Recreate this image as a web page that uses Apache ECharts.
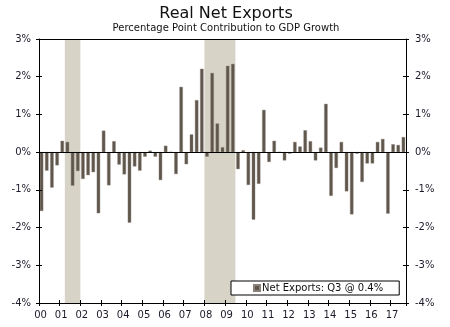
<!DOCTYPE html>
<html>
<head>
<meta charset="utf-8">
<script src="https://cdn.jsdelivr.net/npm/echarts@6/dist/echarts.min.js"></script>
<style>html,body{margin:0;padding:0;background:#fff;}#c{width:450px;height:327px;}</style>
</head>
<body>
<div id="c"></div>
<script>
// Year tick labels (one per year, 4 quarters each)
const yearLabels = ['00','01','02','03','04','05','06','07','08','09','10','11','12','13','14','15','16','17'];
// Quarterly percentage point contribution, 2000Q1 .. 2017Q3
const netExports = [
  -1.56, -0.49, -0.94, -0.35,
   0.30,  0.27, -0.89, -0.50,
  -0.71, -0.61, -0.53, -1.62,
   0.57, -0.88,  0.29, -0.33,
  -0.59, -1.87, -0.38, -0.49,
  -0.12,  0.04, -0.12, -0.74,
   0.17,  0.00, -0.58,  1.73,
  -0.32,  0.47,  1.38,  2.21,
  -0.12,  2.10,  0.76,  0.13,
   2.29,  2.34, -0.45,  0.05,
  -0.87, -1.79, -0.84,  1.12,
  -0.26,  0.30,  0.00, -0.22,
  -0.04,  0.27,  0.15,  0.58,
   0.29, -0.22,  0.12,  1.28,
  -1.16, -0.42,  0.27, -1.04,
  -1.65, -0.04, -0.79, -0.30,
  -0.30,  0.27,  0.35, -1.63,
   0.21,  0.19,  0.40
];
// Recession shading, in quarter positions from 2000Q1
const recessionStart = [5, 32];
const recessionEnd = [8, 38];
const yTickValues = [-4, -3, -2, -1, 0, 1, 2, 3];
const seriesName = 'Net Exports: Q3 @ 0.4%';

const FONT = 'DejaVu Sans';
const nQ = netExports.length;
const xMax = nQ; // 71 quarter slots
const yMin = yTickValues[0], yMax = yTickValues[yTickValues.length - 1];

const chart = echarts.init(document.getElementById('c'), null, {renderer: 'canvas'});

const labelStyle = {color: '#1a1a2a', fontFamily: FONT, fontSize: 10};

chart.setOption({
  animation: false,
  backgroundColor: '#fff',
  title: {
    text: 'Real Net Exports',
    subtext: 'Percentage Point Contribution to GDP Growth',
    left: 221, textAlign: 'center', top: 1, itemGap: 1,
    textStyle: {fontFamily: FONT, fontSize: 16, fontWeight: 'normal', color: '#111'},
    subtextStyle: {fontFamily: FONT, fontSize: 10, color: '#111'}
  },
  legend: {
    data: [seriesName],
    left: 231, top: 281,
    padding: [2, 16, 2, 22],
    backgroundColor: '#fff',
    borderColor: '#000', borderWidth: 1,
    icon: 'rect', itemWidth: 6, itemHeight: 6,
    textStyle: {fontFamily: FONT, fontSize: 10, color: '#111', padding: [0, 0, 0, -3]},
    z: 20
  },
  grid: {left: 39, right: 44, top: 39, bottom: 24, containLabel: false},
  xAxis: [
    {type: 'value', position: 'bottom', min: 0, max: xMax, interval: 4, z: 10,
     axisLine: {show: true, onZero: false, lineStyle: {color: '#000'}},
     axisTick: {show: true, inside: false, length: 3, lineStyle: {color: '#000'}},
     axisLabel: {show: true, margin: 7, ...labelStyle, padding: [0, 0, 0, 3],
       formatter: v => (v % 4 === 0 && v / 4 < yearLabels.length) ? yearLabels[v / 4] : ''},
     splitLine: {show: false}},
    {type: 'value', position: 'bottom', min: 0, max: xMax, interval: 4, z: 10,
     axisLine: {show: false, onZero: false},
     axisTick: {show: true, inside: true, length: 3, lineStyle: {color: '#000'}},
     axisLabel: {show: false}, splitLine: {show: false}},
    {type: 'value', position: 'top', min: 0, max: xMax, z: 10,
     axisLine: {show: true, onZero: false, lineStyle: {color: '#000'}},
     axisTick: {show: false}, axisLabel: {show: false}, splitLine: {show: false}}
  ],
  yAxis: [
    {type: 'value', position: 'left', min: yMin, max: yMax, interval: 1, z: 10,
     axisLine: {show: true, onZero: false, lineStyle: {color: '#000'}},
     axisTick: {show: true, inside: false, length: 3, lineStyle: {color: '#000'}},
     axisLabel: {show: true, margin: 8, ...labelStyle, formatter: '{value}%'},
     splitLine: {show: false}},
    {type: 'value', position: 'right', min: yMin, max: yMax, interval: 1, z: 10,
     axisLine: {show: true, onZero: false, lineStyle: {color: '#000'}},
     axisTick: {show: true, inside: false, length: 3, lineStyle: {color: '#000'}},
     axisLabel: {show: true, margin: 9, ...labelStyle, formatter: '{value}%'},
     splitLine: {show: false}},
    {type: 'value', position: 'left', min: yMin, max: yMax, interval: 1, z: 10,
     axisLine: {show: false, onZero: false},
     axisTick: {show: true, inside: true, length: 3, lineStyle: {color: '#000'}},
     axisLabel: {show: false}, splitLine: {show: false}},
    {type: 'value', position: 'right', min: yMin, max: yMax, interval: 1, z: 10,
     axisLine: {show: false, onZero: false},
     axisTick: {show: true, inside: true, length: 3, lineStyle: {color: '#000'}},
     axisLabel: {show: false}, splitLine: {show: false}}
  ],
  series: [
    {
      name: 'recessions', type: 'line', xAxisIndex: 0, yAxisIndex: 0, data: [], z: 1,
      silent: true,
      markArea: {
        silent: true,
        itemStyle: {color: '#d7d3c6'},
        data: recessionStart.map((s, k) => [{xAxis: s}, {xAxis: recessionEnd[k]}])
      }
    },
    {
      name: seriesName, type: 'bar', xAxisIndex: 0, yAxisIndex: 0, z: 3,
      barWidth: 3.4,
      itemStyle: {color: '#5f564c', borderColor: '#8a8279', borderWidth: 0.4},
      data: netExports.map((v, i) => [i + 0.5, v]),
      markLine: {
        silent: true, symbol: 'none', label: {show: false},
        lineStyle: {color: '#000', width: 1.2, type: 'solid'},
        data: [{yAxis: 0}]
      }
    }
  ]
});
</script>
</body>
</html>
